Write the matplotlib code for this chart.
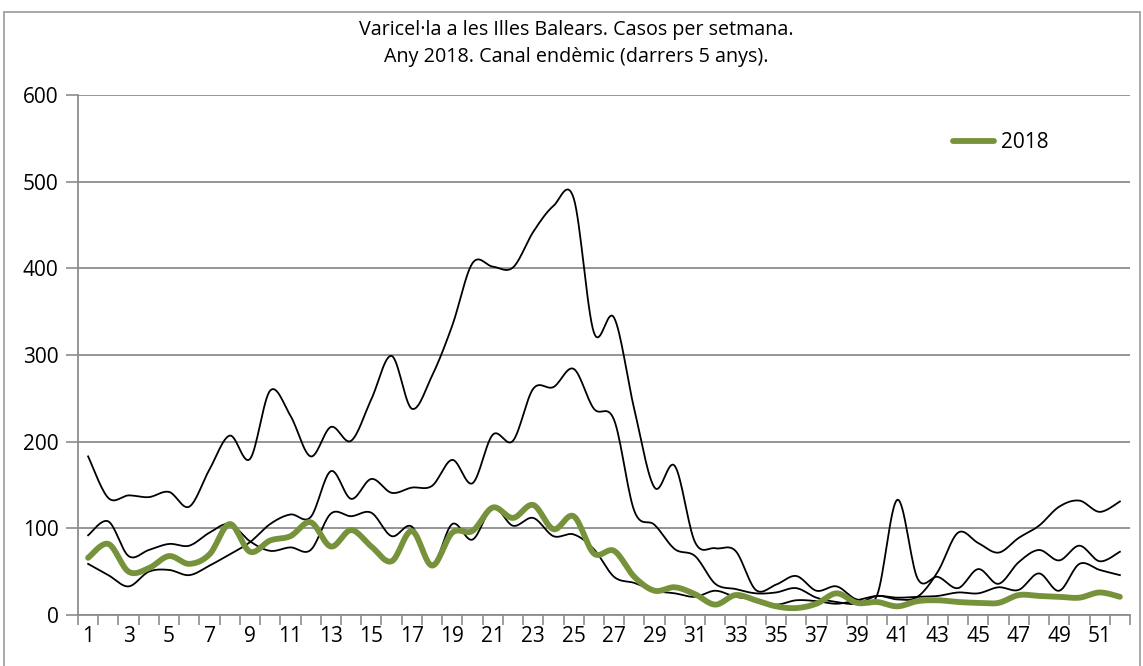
import numpy as np
import matplotlib.pyplot as plt
from matplotlib.patches import Rectangle

plt.rcParams['font.family'] = ['Open Sans', 'DejaVu Sans']

weeks = np.arange(1, 53)

# black reference curves (last 5 years)
line_a = [183, 135, 138, 136, 142, 125, 168, 207, 180, 259, 230, 183, 217, 201, 249, 299,
          238, 276, 334, 406, 402, 401, 442, 472, 481, 326, 343, 237, 147, 172, 84, 77,
          74, 29, 35, 45, 28, 33, 18, 23, 133, 42, 44, 31, 53, 36, 61, 75, 63, 80, 62, 73]
line_b = [59, 46, 33, 50, 52, 46, 57, 70, 84, 105, 116, 113, 166, 134, 157, 141,
          147, 149, 179, 152, 208, 201, 261, 263, 284, 238, 225, 120, 104, 76, 68, 36,
          30, 25, 26, 31, 20, 15, 13, 22, 18, 21, 50, 95, 83, 72, 89, 103, 125, 132, 119, 131]
line_c = [92, 108, 68, 75, 82, 80, 95, 105, 85, 74, 78, 75, 117, 114, 118, 91,
          102, 58, 105, 87, 124, 103, 112, 91, 93, 76, 44, 37, 28, 25, 21, 28,
          21, 18, 12, 17, 16, 13, 17, 22, 20, 21, 22, 26, 25, 32, 29, 48, 28, 59, 52, 46]
cases_2018 = [66, 82, 50, 54, 68, 59, 70, 105, 73, 86, 91, 107, 79, 98, 79, 62,
              97, 57, 95, 97, 124, 112, 127, 99, 114, 71, 74, 44, 28, 32, 24, 12,
              23, 17, 10, 8, 13, 25, 14, 15, 10, 16, 17, 15, 14, 14, 23, 22, 21, 20, 26, 21]

title = "Varicel·la a les Illes Balears. Casos per setmana.\nAny 2018. Canal endèmic (darrers 5 anys)."


def smooth(x, y, n=16):
    # excel-like smoothed line (catmull-rom as cubic bezier)
    x = np.asarray(x, float)
    y = np.asarray(y, float)
    px = np.concatenate([[x[0]], x, [x[-1]]])
    py = np.concatenate([[y[0]], y, [y[-1]]])
    t = np.linspace(0, 1, n, endpoint=False)[:, None]
    xs, ys = [], []
    for i in range(1, len(px) - 2):
        p0 = np.array([px[i], py[i]])
        p3 = np.array([px[i + 1], py[i + 1]])
        c1 = p0 + (np.array([px[i + 1], py[i + 1]]) - np.array([px[i - 1], py[i - 1]])) / 6
        c2 = p3 - (np.array([px[i + 2], py[i + 2]]) - np.array([px[i], py[i]])) / 6
        pts = ((1 - t) ** 3) * p0 + 3 * ((1 - t) ** 2) * t * c1 + 3 * (1 - t) * t ** 2 * c2 + t ** 3 * p3
        xs.append(pts[:, 0])
        ys.append(pts[:, 1])
    xs.append([x[-1]])
    ys.append([y[-1]])
    return np.concatenate(xs), np.concatenate(ys)


fig = plt.figure(figsize=(11.43, 6.66), dpi=100)
ax = fig.add_axes([78 / 1143, 51 / 666, 1052 / 1143, 520 / 666])

fig.patches.append(Rectangle((4 / 1143, -0.05), 1136 / 1143, 1.05 - 11.5 / 666,
                             transform=fig.transFigure, fill=False,
                             edgecolor='#999999', linewidth=1.2))

for s in [line_a, line_b, line_c]:
    sx, sy = smooth(weeks, s)
    ax.plot(sx, sy, color='black', linewidth=1.3, zorder=3)

gx, gy = smooth(weeks, cases_2018)
ax.plot(gx, gy, color='#76933C', linewidth=4.2, zorder=4, label='2018',
        solid_capstyle='round')

ax.set_xlim(0.5, 52.5)
ax.set_ylim(0, 600)
ax.set_yticks(range(0, 601, 100))
ax.yaxis.grid(True, color='#8c8c8c', linewidth=1.3)
ax.set_axisbelow(True)

ax.set_xticks(weeks[::2])
ax.set_xticklabels([str(w) for w in weeks[::2]])
ax.set_xticks(np.arange(0.5, 53, 1), minor=True)
ax.tick_params(axis='x', which='major', length=0, pad=8, labelsize=15)
ax.tick_params(axis='x', which='minor', length=7, color='#8c8c8c', width=1.2)
ax.tick_params(axis='y', length=9, color='#8c8c8c', width=1.2, pad=5, labelsize=15)

for side in ['top', 'right']:
    ax.spines[side].set_visible(False)
for side in ['left', 'bottom']:
    ax.spines[side].set_color('#8c8c8c')
    ax.spines[side].set_linewidth(1.3)

fig.text(0.504, 0.935, title, ha='center', va='center', fontsize=14.2,
         linespacing=1.45)

leg = ax.legend(loc='upper right', bbox_to_anchor=(0.94, 0.965), frameon=False,
                fontsize=15, handlelength=2.0, handletextpad=0.3)

fig.savefig('out.png', dpi=100)
